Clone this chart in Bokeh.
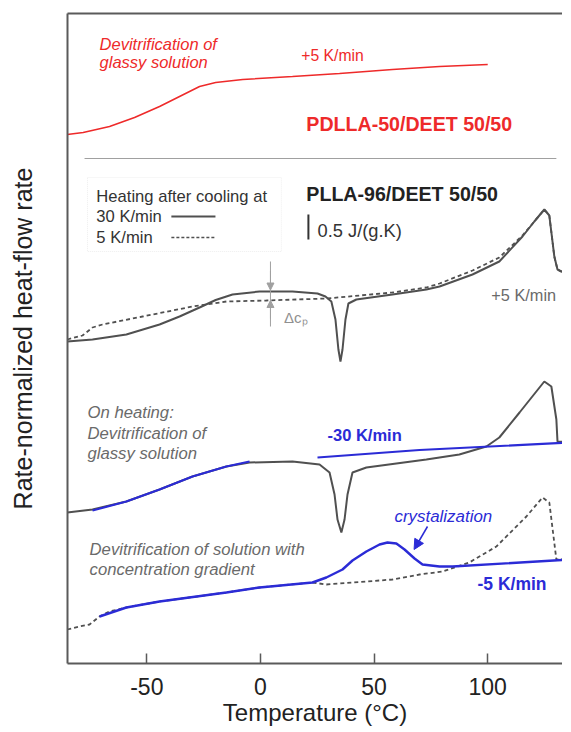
from bokeh.plotting import figure
from bokeh.models import Range1d, LinearAxis, FixedTicker, Label, Arrow, NormalHead, BoxAnnotation
from bokeh.embed import file_html
from bokeh.resources import INLINE

FONT = "Liberation Sans"
RED = "#ee2a2a"
BLUE = "#2b2bd6"
DARK = "#505050"
GRAY_TXT = "#6a6a6a"

# ---------------- data (temperature in °C, heat-flow in J/(g.K), stacked with offsets) -------------
x_ticks = [-50, 0, 50, 100]

# PDLLA-50/DEET 50/50, heating +5 K/min
t_red = [-85, -78.0, -66.4, -55.4, -44.4, -35.6, -26.8, -19.7, -7.8, 14.1, 34.8, 58.1, 78.8, 100]
h_red = [10.58, 10.62, 10.74, 10.92, 11.14, 11.34, 11.54, 11.62, 11.68, 11.74, 11.80, 11.88, 11.94, 11.98]

# PLLA-96/DEET 50/50, heating +5 K/min after cooling at 30 K/min (solid)
t_h30 = [-85, -73.9, -59.0, -44.4, -35.6, -26.8, -19.7, -12.3, -0.4, 14.1, 25.1, 28.6, 31.2, 33.0,
         34.3, 35.2, 36.1, 37.4, 38.7, 42.2, 58.1, 73.0, 78.8, 93.3, 105.1, 115.3, 120.5, 124.9,
         127.1, 129.3, 130.7, 132.4, 136.4]
h_h30 = [6.44, 6.48, 6.58, 6.78, 6.94, 7.12, 7.27, 7.38, 7.44, 7.44, 7.40, 7.34, 7.24, 6.88,
         6.28, 6.04, 6.28, 6.88, 7.20, 7.28, 7.38, 7.48, 7.54, 7.78, 8.04, 8.54, 8.84, 9.08,
         8.96, 8.14, 7.88, 7.84, 7.84]

# PLLA-96/DEET 50/50, heating +5 K/min after cooling at 5 K/min (dashed)
t_h5 = [-85, -78.3, -73.9, -69.5, -51.9, -29.9, -15.0, 2.6, 29.0, 43.6, 58.1, 73.0, 78.8, 93.3,
        105.1, 115.3, 120.5, 124.9, 127.1, 129.3, 130.7, 132.4, 136.4]
h_h5 = [6.48, 6.56, 6.72, 6.78, 6.94, 7.14, 7.24, 7.26, 7.30, 7.36, 7.42, 7.52, 7.60, 7.86,
        8.12, 8.56, 8.84, 9.08, 8.96, 8.14, 7.88, 7.84, 7.84]

# Heating after cooling at 30 K/min (lower, solid gray)
t_h30b = [-85, -73.9, -59.0, -44.4, -29.9, -15.0, -4.8, 14.1, 26.0, 30.4, 32.6, 33.9, 35.6, 37.0,
          38.3, 40.5, 46.6, 73.0, 87.5, 99.4, 105.1, 114.0, 124.9, 128.0, 130.2, 130.7, 136.4]
h_h30b = [3.02, 3.08, 3.24, 3.48, 3.74, 3.94, 4.02, 4.04, 3.98, 3.82, 3.38, 2.88, 2.62, 2.88,
          3.38, 3.82, 3.92, 4.08, 4.18, 4.34, 4.52, 5.02, 5.64, 5.54, 4.88, 4.44, 4.42]

# Cooling -30 K/min (blue), two pieces
t_c30a = [-73.9, -59.0, -44.4, -29.9, -15.0, -4.8]
h_c30a = [3.06, 3.24, 3.48, 3.74, 3.94, 4.04]
t_c30b = [25.1, 70.0, 136.4]
h_c30b = [4.12, 4.27, 4.42]

# Heating after cooling at 5 K/min (lower, dashed gray)
t_h5b = [-85, -79.6, -75.2, -70.8, -66.4, -59.0, -44.4, -15.0, -0.4, 22.9, 29.0, 58.1, 70.0, 80.1,
         91.9, 103.8, 117.0, 124.1, 127.1, 130.2, 136.4]
h_h5b = [0.68, 0.74, 0.78, 0.94, 1.04, 1.12, 1.24, 1.42, 1.52, 1.62, 1.58, 1.68, 1.78, 1.84,
         2.02, 2.34, 2.94, 3.32, 3.22, 2.08, 2.10]

# Cooling -5 K/min (blue)
t_c5 = [-70.8, -59.0, -44.4, -15.0, -0.4, 22.9, 29.0, 36.1, 40.5, 46.6, 52.4, 55.9, 59.8, 63.4,
        67.8, 71.3, 78.8, 84.5, 136.4]
h_c5 = [0.94, 1.12, 1.24, 1.42, 1.52, 1.62, 1.72, 1.88, 2.06, 2.24, 2.38, 2.42, 2.40, 2.28,
        2.10, 1.98, 1.94, 1.94, 2.08]

# ---------------- figure ----------------
p = figure(width=562, height=730, x_range=Range1d(-84.9, 132.9), y_range=Range1d(0, 13.0),
           output_backend="svg", toolbar_location=None, x_axis_type=None, y_axis_type=None,
           min_border_left=67, min_border_right=0, min_border_top=13, min_border_bottom=67)
p.outline_line_color = None
p.background_fill_color = "white"
p.border_fill_color = "white"

AX = "#5a5a5a"
xaxis = LinearAxis(ticker=FixedTicker(ticks=x_ticks), axis_label="Temperature (°C)")
xaxis.major_label_overrides = {-50: "-50", 0: "0", 50: "50", 100: "100"}
xaxis.axis_line_color = AX
xaxis.axis_line_width = 2
xaxis.major_tick_in = 10
xaxis.major_tick_out = 0
xaxis.major_tick_line_color = AX
xaxis.major_tick_line_width = 1.5
xaxis.minor_tick_line_color = None
xaxis.major_label_text_font = FONT
xaxis.major_label_text_font_size = "23px"
xaxis.major_label_text_color = "#222222"
xaxis.major_label_standoff = 14
xaxis.axis_label_text_font = FONT
xaxis.axis_label_text_font_size = "24px"
xaxis.axis_label_text_font_style = "normal"
xaxis.axis_label_text_color = "#222222"
xaxis.axis_label_standoff = 1
p.add_layout(xaxis, "below")

yaxis = LinearAxis(ticker=FixedTicker(ticks=[]), axis_label="Rate-normalized heat-flow rate")
yaxis.axis_line_color = AX
yaxis.axis_line_width = 2
yaxis.major_tick_line_color = None
yaxis.minor_tick_line_color = None
yaxis.major_label_standoff = 0
yaxis.major_label_text_font_size = "0px"
yaxis.axis_label_text_font = FONT
yaxis.axis_label_text_font_size = "25px"
yaxis.axis_label_text_font_style = "normal"
yaxis.axis_label_text_color = "#222222"
yaxis.axis_label_standoff = 31
p.add_layout(yaxis, "left")

top = LinearAxis(ticker=FixedTicker(ticks=[]))
top.axis_line_color = AX
top.axis_line_width = 2
top.major_tick_line_color = None
top.minor_tick_line_color = None
top.major_label_text_font_size = "0px"
top.major_label_standoff = 0
p.add_layout(top, "above")

# ---------------- curves ----------------
p.line(t_red, h_red, line_color=RED, line_width=1.6)
p.line([-77.4, 130.2], [10.1, 10.1], line_color="#a0a0a0", line_width=1)

p.line(t_h5, h_h5, line_color=DARK, line_width=1.8, line_dash="4 3")
p.line(t_h30, h_h30, line_color=DARK, line_width=2)

p.line(t_h30b, h_h30b, line_color=DARK, line_width=2)
p.line(t_c30a, h_c30a, line_color=BLUE, line_width=2.2)
p.line(t_c30b, h_c30b, line_color=BLUE, line_width=2.2)

p.line(t_h5b, h_h5b, line_color=DARK, line_width=1.8, line_dash="4 3")
p.line(t_c5, h_c5, line_color=BLUE, line_width=2.4)

# ---------------- legend box ----------------
p.add_layout(BoxAnnotation(left=-76.1, right=9.2, bottom=8.24, top=9.72, fill_color=None,
                           fill_alpha=0, line_color="#c8c8c8", line_width=1, line_dash="1 1",
                           level="underlay"))
p.line([-39.2, -19.8], [8.94, 8.94], line_color=DARK, line_width=1.8)
p.line([-39.2, -19.8], [8.52, 8.52], line_color=DARK, line_width=1.5, line_dash="3 2")


def lab(x, y, text, color, size, style="normal", align="left"):
    p.add_layout(Label(x=x, y=y, text=text, text_color=color, text_font=FONT,
                       text_font_size=size, text_font_style=style, text_align=align,
                       text_baseline="middle"))


lab(-72.2, 9.34, "Heating after cooling at", "#333333", "16.6px")
lab(-72.2, 8.94, "30 K/min", "#333333", "16.6px")
lab(-72.2, 8.52, "5 K/min", "#333333", "16.6px")

# top panel texts
lab(-70.8, 12.40, "Devitrification of", RED, "16.5px", "italic")
lab(-70.8, 12.04, "glassy solution", RED, "16.5px", "italic")
lab(18.0, 12.16, "+5 K/min", RED, "15.7px")
lab(20.2, 10.80, "PDLLA-50/DEET 50/50", RED, "19.6px", "bold")

# middle panel texts
lab(20.2, 9.40, "PLLA-96/DEET 50/50", "#222222", "19.6px", "bold")
p.line([21.1, 21.1], [8.48, 8.98], line_color="#333333", line_width=2)
lab(25.1, 8.66, "0.5 J/(g.K)", "#333333", "18.3px")
lab(101.6, 7.38, "+5 K/min", GRAY_TXT, "16.3px")

# delta cp marker
p.line([4.4, 4.4], [6.74, 8.04], line_color="#a0a0a0", line_width=1)
p.add_layout(Arrow(end=NormalHead(size=7, fill_color="#a0a0a0", line_color="#a0a0a0"),
                   x_start=4.4, y_start=7.85, x_end=4.4, y_end=7.47,
                   line_color="#a0a0a0", line_width=1))
p.add_layout(Arrow(end=NormalHead(size=7, fill_color="#a0a0a0", line_color="#a0a0a0"),
                   x_start=4.4, y_start=6.9, x_end=4.4, y_end=7.26,
                   line_color="#a0a0a0", line_width=1))
lab(10.4, 6.92, "Δcₚ", "#909090", "15px")

# lower panels texts
lab(-76.1, 5.02, "On heating:", GRAY_TXT, "16.7px", "italic")
lab(-76.1, 4.60, "Devitrification of", GRAY_TXT, "16.7px", "italic")
lab(-76.1, 4.20, "glassy solution", GRAY_TXT, "16.7px", "italic")
lab(29.5, 4.58, "-30 K/min", BLUE, "16.5px", "bold")

lab(59.0, 2.94, "crystalization", BLUE, "16.9px", "italic")
p.add_layout(Arrow(end=NormalHead(size=10, fill_color=BLUE, line_color=BLUE),
                   x_start=73.5, y_start=2.74, x_end=67.6, y_end=2.28,
                   line_color=BLUE, line_width=1.5))
lab(-75.2, 2.28, "Devitrification of solution with", GRAY_TXT, "16.7px", "italic")
lab(-75.2, 1.88, "concentration gradient", GRAY_TXT, "16.7px", "italic")
lab(95.5, 1.60, "-5 K/min", BLUE, "17.5px", "bold")

open("out.html", "w").write(file_html(p, INLINE))
